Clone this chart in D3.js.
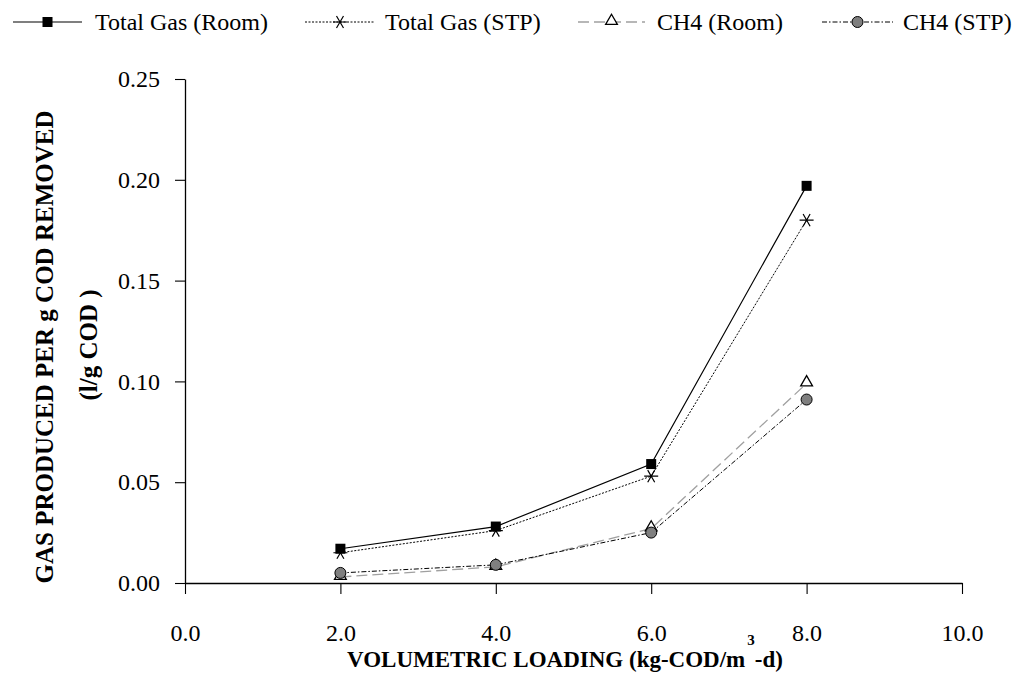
<!DOCTYPE html>
<html>
<head>
<meta charset="utf-8">
<script src="https://cdn.jsdelivr.net/npm/d3@7"></script>
<style>
  html, body { margin: 0; padding: 0; background: #fff; }
  svg { display: block; }
</style>
</head>
<body>
<svg id="chart" width="1017" height="683"></svg>
<script>
// ---- data ----
const loading = [2.0, 4.0, 6.0, 8.0];
const totalGasRoom = [0.017, 0.028, 0.059, 0.197];
const totalGasSTP  = [0.015, 0.026, 0.053, 0.180];
const ch4Room      = [0.003, 0.008, 0.027, 0.099];
const ch4STP       = [0.005, 0.009, 0.025, 0.091];
const seriesNames  = ["Total Gas (Room)", "Total Gas (STP)", "CH4 (Room)", "CH4 (STP)"];
const xTicks = [0, 2, 4, 6, 8, 10];
const yTicks = [0, 0.05, 0.10, 0.15, 0.20, 0.25];

const FONT = "'Liberation Serif'";
const svg = d3.select("#chart");
const x = d3.scaleLinear().domain([0, 10]).range([185, 962]);
const y = d3.scaleLinear().domain([0, 0.25]).range([583, 79]);

// ---- axes ----
const gx = svg.append("g").attr("transform", `translate(0,${y(0)})`)
  .call(d3.axisBottom(x).tickValues(xTicks).tickSize(11).tickSizeOuter(0)
        .tickPadding(30).tickFormat(d3.format(".1f")));
const gy = svg.append("g").attr("transform", `translate(${x(0)},0)`)
  .call(d3.axisLeft(y).tickValues(yTicks).tickSize(10).tickSizeOuter(0)
        .tickPadding(15).tickFormat(d3.format(".2f")));
[gx, gy].forEach(g => {
  g.attr("font-family", null).attr("font-size", null);
  g.selectAll("path.domain").attr("stroke", "#000").attr("stroke-width", 1.3);
  g.selectAll(".tick line").attr("stroke", "#000").attr("stroke-width", 1.1);
  g.selectAll(".tick text").style("font-family", FONT).style("font-size", "24px").attr("fill", "#000");
});

// ---- axis titles ----
const xt = svg.append("text").attr("x", 565).attr("y", 667)
  .attr("text-anchor", "middle").style("font-family", FONT).style("font-weight", "bold").style("font-size", "23px");
xt.append("tspan").text("VOLUMETRIC LOADING (kg-COD/m");
xt.append("tspan").style("font-size", "15px").attr("dy", -22).attr("dx", 2).text("3");
xt.append("tspan").attr("dy", 22).text("-d)");

svg.append("text").attr("transform", "translate(53,347) rotate(-90)")
  .attr("text-anchor", "middle").style("font-family", FONT).style("font-weight", "bold").style("font-size", "25px")
  .text("GAS PRODUCED PER g COD REMOVED");
svg.append("text").attr("transform", "translate(97,345) rotate(-90)")
  .attr("text-anchor", "middle").style("font-family", FONT).style("font-weight", "bold").style("font-size", "25px")
  .text("(l/g COD )");

// ---- series styles ----
const asteriskPath = (r) => {
  const p = d3.path();
  for (let i = 0; i < 3; i++) {
    const a = i * Math.PI / 3;
    p.moveTo(-r * Math.cos(a), -r * Math.sin(a));
    p.lineTo(r * Math.cos(a), r * Math.sin(a));
  }
  return p.toString();
};
const styles = [
  { values: totalGasRoom, stroke: "#000", width: 1.2, dash: null,
    marker: g => g.append("rect").attr("x", -5).attr("y", -5).attr("width", 10).attr("height", 10).attr("fill", "#000") },
  { values: totalGasSTP, stroke: "#000", width: 1, dash: "2,1.5",
    marker: g => g.append("path").attr("d", asteriskPath(7)).attr("stroke", "#000").attr("stroke-width", 1.2).attr("fill", "none") },
  { values: ch4Room, stroke: "#a0a0a0", width: 1.3, dash: "11,5",
    marker: g => g.append("path").attr("d", d3.symbol(d3.symbolTriangle, 60)()).attr("transform", "translate(0,-1)")
                  .attr("fill", "#fff").attr("stroke", "#000").attr("stroke-width", 1.3) },
  { values: ch4STP, stroke: "#000", width: 1, dash: "5,2,1.5,2",
    marker: g => g.append("circle").attr("r", 5.5).attr("fill", "#7f7f7f").attr("stroke", "#000").attr("stroke-width", 1) }
];

const line = d3.line().x(d => x(d[0])).y(d => y(d[1]));
styles.forEach(s => {
  const pts = loading.map((l, i) => [l, s.values[i]]);
  svg.append("path").datum(pts).attr("d", line).attr("fill", "none")
    .attr("stroke", s.stroke).attr("stroke-width", s.width)
    .attr("stroke-dasharray", s.dash);
});
styles.forEach(s => {
  loading.forEach((l, i) => {
    const g = svg.append("g").attr("transform", `translate(${x(l)},${y(s.values[i])})`);
    s.marker(g);
  });
});

// ---- legend ----
const legendItems = [
  { x0: 13, x1: 82, text: 95 },
  { x0: 305, x1: 375, text: 385 },
  { x0: 578, x1: 645, text: 657 },
  { x0: 822, x1: 893, text: 903 }
];
const ly = 22;
legendItems.forEach((it, i) => {
  const s = styles[i];
  svg.append("line").attr("x1", it.x0).attr("x2", it.x1).attr("y1", ly).attr("y2", ly)
    .attr("stroke", s.stroke).attr("stroke-width", s.width).attr("stroke-dasharray", s.dash);
  const g = svg.append("g").attr("transform", `translate(${(it.x0 + it.x1) / 2},${ly})`);
  s.marker(g);
  svg.append("text").attr("x", it.text).attr("y", ly + 8).style("font-family", FONT).style("font-size", "24px")
    .text(seriesNames[i]);
});
</script>
</body>
</html>
